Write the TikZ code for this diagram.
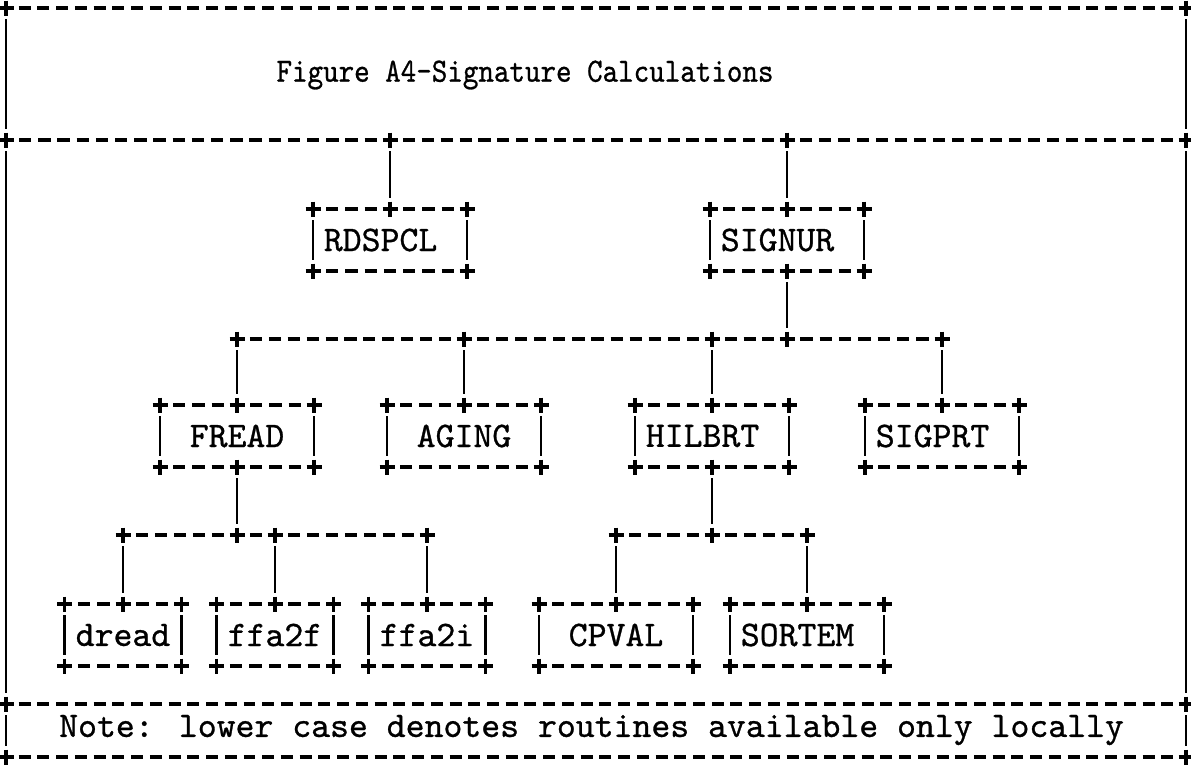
\documentclass[tikz,border=0pt]{standalone}
\usepackage{fontspec}
\newfontfamily\typer{lmmono10-regular}[Extension=.otf, FakeBold=0.8]
\usetikzlibrary{calc}

% pitch of one typed character, in pt
\newcommand\asciicell{18.8}

% a typed run of dashes between two "+" marks on the same line
\newcommand\hrun[2]{%
  \path (#1); \pgfgetlastxy{\hrunxa}{\hrunya}%
  \path (#2); \pgfgetlastxy{\hrunxb}{\hrunyb}%
  \pgfmathsetmacro\hrunn{max(2,round((\hrunxb-\hrunxa)/\asciicell))}%
  \pgfmathsetmacro\hrunp{(\hrunxb-\hrunxa)/\hrunn}%
  \pgfmathsetmacro\hrund{0.64*\hrunp}%
  \pgfmathsetmacro\hrung{\hrunp-\hrund}%
  \draw[inkline, dash pattern=on \hrund pt off \hrung pt]
    ([xshift={\hrunp pt-0.5*\hrund pt}]#1) -- ([xshift={-\hrunp pt+0.5*\hrund pt}]#2);%
}

% a routine box typed with +, - and |
\newcommand\asciibox[2]{%
  \hrun{#1.north west}{#1.north east}%
  \hrun{#1.south west}{#1.south east}%
  \draw[vstroke] (#1.north west) -- (#1.south west);%
  \draw[vstroke] (#1.north east) -- (#1.south east);%
  \foreach \bxa in {north west,north east,south west,south east,north}{\pic at (#1.\bxa) {jplus};}%
  \ifnum#2=1 \pic at (#1.south) {jplus};\fi
}

\begin{document}
\begin{tikzpicture}[x=1pt,y=-1pt,
  inkline/.style={line width=3.1pt, line cap=butt, black},
  vstroke/.style={line width=2.4pt, black, shorten >=11pt, shorten <=11pt},
  routine/.style={rectangle, inner sep=0pt, outer sep=0pt, minimum height=62pt,
    font=\typer\fontsize{36}{36}\selectfont},
  w9/.style={minimum width=154pt},
  w7/.style={minimum width=117pt},
  jplus/.pic={\draw[inkline] (-7.5,0) -- (7.5,0) (0,-7.5) -- (0,7.5);},
]
\fill[white] (0,0) rectangle (1191,764);
\useasboundingbox (0,0) rectangle (1191,764);

% frame and separator lines
\coordinate (tl) at (6,8);     \coordinate (tr) at (1186,8);
\coordinate (s1l) at (6,140);  \coordinate (s1r) at (1186,140);
\coordinate (s2l) at (6,704);  \coordinate (s2r) at (1186,704);
\coordinate (bl) at (6,757);   \coordinate (br) at (1186,757);
\coordinate (s1) at (0,140);
\coordinate (b1) at (0,339);
\coordinate (b2) at (0,535);

% texts
\node[font=\typer\fontsize{34}{34}\selectfont] (title) at (525,75)
  {\scalebox{0.87}[1]{Figure A4-Signature Calculations}};
\node[font=\typer\fontsize{36}{36}\selectfont, anchor=west, inner sep=0pt] (note) at (59,730)
  {Note: lower case denotes routines available only locally};

% routines
\node[routine,w9] (rdspcl) at (390,240) {RDSPCL\phantom{X}};
\node[routine,w9] (signur) at (787,240) {SIGNUR\phantom{X}};
\node[routine,w9] (fread)  at (237,436) {\phantom{X}FREAD\phantom{X}};
\node[routine,w9] (aging)  at (464,436) {\phantom{X}AGING\phantom{X}};
\node[routine,w9] (hilbrt) at (712,436) {HILBRT\phantom{X}};
\node[routine,w9] (sigprt) at (942,436) {SIGPRT\phantom{X}};
\node[routine,w7] (dread)  at (123,635) {dread};
\node[routine,w7] (ffa2f)  at (275,635) {ffa2f};
\node[routine,w7] (ffa2i)  at (427,635) {ffa2i};
\node[routine,w9] (cpval)  at (616,635) {\phantom{X}CPVAL\phantom{X}};
\node[routine,w9] (sortem) at (807,635) {SORTEM\phantom{X}};

% junctions on the connecting lines
\coordinate (j-rd)  at (rdspcl.north |- s1);
\coordinate (j-sg)  at (signur.north |- s1);
\coordinate (k-sg)  at (signur.south |- b1);
\coordinate (k-fr)  at (fread.north |- b1);
\coordinate (k-ag)  at (aging.north |- b1);
\coordinate (k-hi)  at (hilbrt.north |- b1);
\coordinate (k-sp)  at (sigprt.north |- b1);
\coordinate (m-dr)  at (dread.north |- b2);
\coordinate (m-fr)  at (fread.south |- b2);
\coordinate (m-f2f) at (ffa2f.north |- b2);
\coordinate (m-f2i) at (ffa2i.north |- b2);
\coordinate (m-cp)  at (cpval.north |- b2);
\coordinate (m-hi)  at (hilbrt.south |- b2);
\coordinate (m-so)  at (sortem.north |- b2);

% dashed rules
\hrun{tl}{tr}
\hrun{s1l}{j-rd} \hrun{j-rd}{j-sg} \hrun{j-sg}{s1r}
\hrun{k-fr}{k-ag} \hrun{k-ag}{k-hi} \hrun{k-hi}{k-sg} \hrun{k-sg}{k-sp}
\hrun{m-dr}{m-fr} \hrun{m-fr}{m-f2f} \hrun{m-f2f}{m-f2i}
\hrun{m-cp}{m-hi} \hrun{m-hi}{m-so}
\hrun{s2l}{s2r}
\hrun{bl}{br}

% frame sides
\draw[vstroke] (tl) -- (s1l);  \draw[vstroke] (tr) -- (s1r);
\draw[vstroke] (s1l) -- (s2l); \draw[vstroke] (s1r) -- (s2r);
\draw[vstroke] (s2l) -- (bl);  \draw[vstroke] (s2r) -- (br);

% connectors
\draw[vstroke] (j-rd) -- (rdspcl.north);
\draw[vstroke] (j-sg) -- (signur.north);
\draw[vstroke] (signur.south) -- (k-sg);
\draw[vstroke] (k-fr) -- (fread.north);
\draw[vstroke] (k-ag) -- (aging.north);
\draw[vstroke] (k-hi) -- (hilbrt.north);
\draw[vstroke] (k-sp) -- (sigprt.north);
\draw[vstroke] (fread.south) -- (m-fr);
\draw[vstroke] (m-dr) -- (dread.north);
\draw[vstroke] (m-f2f) -- (ffa2f.north);
\draw[vstroke] (m-f2i) -- (ffa2i.north);
\draw[vstroke] (hilbrt.south) -- (m-hi);
\draw[vstroke] (m-cp) -- (cpval.north);
\draw[vstroke] (m-so) -- (sortem.north);

% boxes
\asciibox{rdspcl}{0}
\asciibox{signur}{1}
\asciibox{fread}{1}
\asciibox{aging}{0}
\asciibox{hilbrt}{1}
\asciibox{sigprt}{0}
\asciibox{dread}{0}
\asciibox{ffa2f}{0}
\asciibox{ffa2i}{0}
\asciibox{cpval}{0}
\asciibox{sortem}{0}

% plus marks on the frame and the connecting lines
\foreach \pm in {tl,tr,s1l,s1r,s2l,s2r,bl,br,j-rd,j-sg,k-sg,k-fr,k-ag,k-hi,k-sp,
                 m-dr,m-fr,m-f2f,m-f2i,m-cp,m-hi,m-so}
  {\pic at (\pm) {jplus};}
\end{tikzpicture}
\end{document}
